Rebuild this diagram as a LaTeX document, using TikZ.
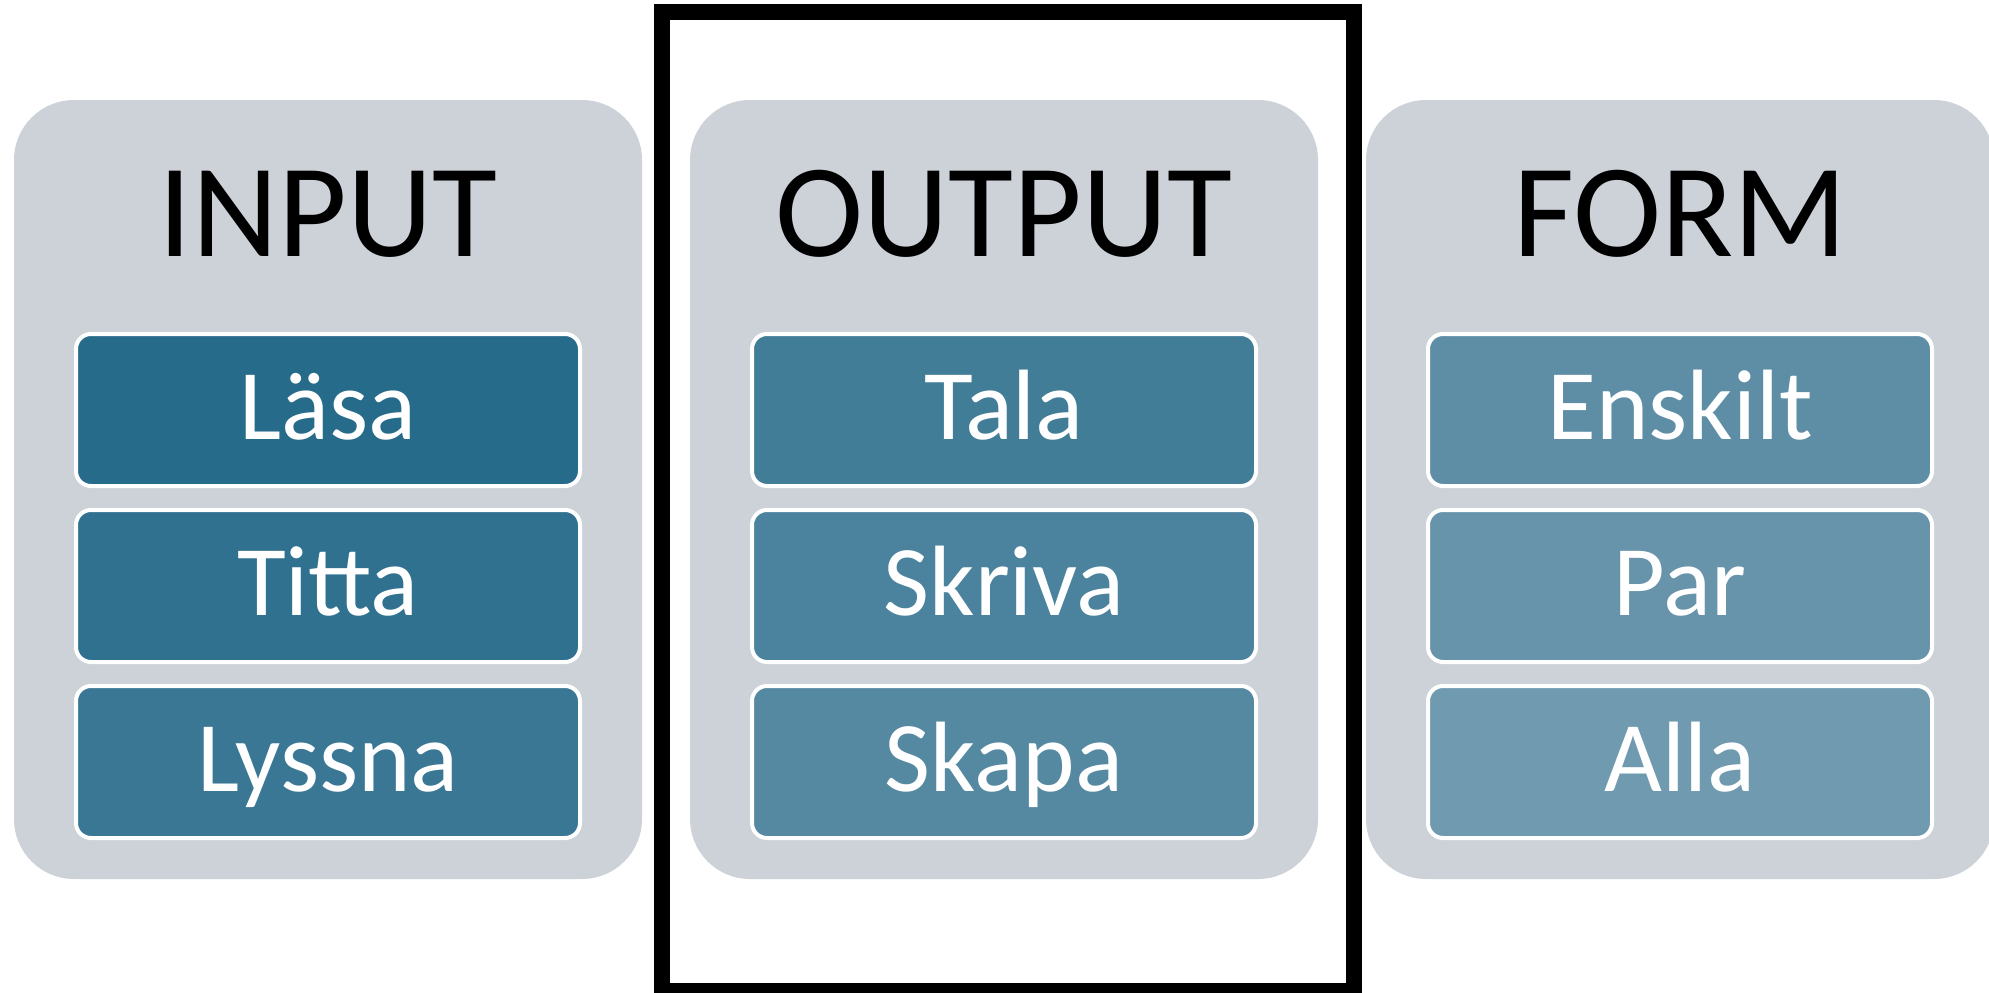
\documentclass[tikz,border=0pt]{standalone}
\usepackage{fontspec}
\setmainfont{Carlito}
\definecolor{panelgray}{RGB}{205,210,217}
\definecolor{cA}{RGB}{39,107,139}
\definecolor{cB}{RGB}{48,113,143}
\definecolor{cC}{RGB}{57,119,148}
\definecolor{cD}{RGB}{66,125,152}
\definecolor{cE}{RGB}{75,130,157}
\definecolor{cF}{RGB}{85,136,161}
\definecolor{cG}{RGB}{94,142,166}
\definecolor{cH}{RGB}{103,148,170}
\definecolor{cI}{RGB}{112,154,175}
\tikzset{
  panel/.style={rectangle, fill=panelgray, rounded corners=60pt, inner sep=0pt,
    minimum width=628pt, minimum height=779pt},
  paneltitle/.style={anchor=base, inner sep=0pt, text=black,
    font=\fontsize{133pt}{140pt}\selectfont},
  item/.style={rectangle, draw=white, line width=4pt, rounded corners=15pt,
    inner sep=0pt, minimum width=504pt, minimum height=152pt,
    text height=76pt, text depth=18pt, text=white,
    font=\fontsize{100pt}{110pt}\selectfont},
  frame/.style={rectangle, draw=black, line width=16pt, inner sep=0pt,
    minimum width=692pt, minimum height=979pt}
}
\begin{document}
\begin{tikzpicture}[x=1pt,y=-1pt]
\useasboundingbox (0,0) rectangle (1989,993);
\clip (0,0) rectangle (1989,993);
% panels
\node[panel] (pin)  at (328,489.5) {};
\node[panel] (pout) at (1004,489.5) {};
\node[panel] (pform) at (1680,489.5) {};
% titles
\node[paneltitle] (tin)   at (328,256) {INPUT};
\node[paneltitle] (tout)  at (1004,256) {OUTPUT};
\node[paneltitle] (tform) at (1680,256) {FORM};
% items
\node[item, fill=cA] (lasa)   at (328,410) {Läsa};
\node[item, fill=cB] (titta)  at (328,586) {Titta};
\node[item, fill=cC] (lyssna) at (328,762) {Lyssna};
\node[item, fill=cD] (tala)   at (1004,410) {Tala};
\node[item, fill=cE] (skriva) at (1004,586) {Skriva};
\node[item, fill=cF] (skapa)  at (1004,762) {Skapa};
\node[item, fill=cG] (enskilt) at (1680,410) {Enskilt};
\node[item, fill=cH] (par)    at (1680,586) {Par};
\node[item, fill=cI] (alla)   at (1680,762) {Alla};
% black frame around OUTPUT
\node[frame] (outframe) at (1008,501.5) {};
\end{tikzpicture}
\end{document}
